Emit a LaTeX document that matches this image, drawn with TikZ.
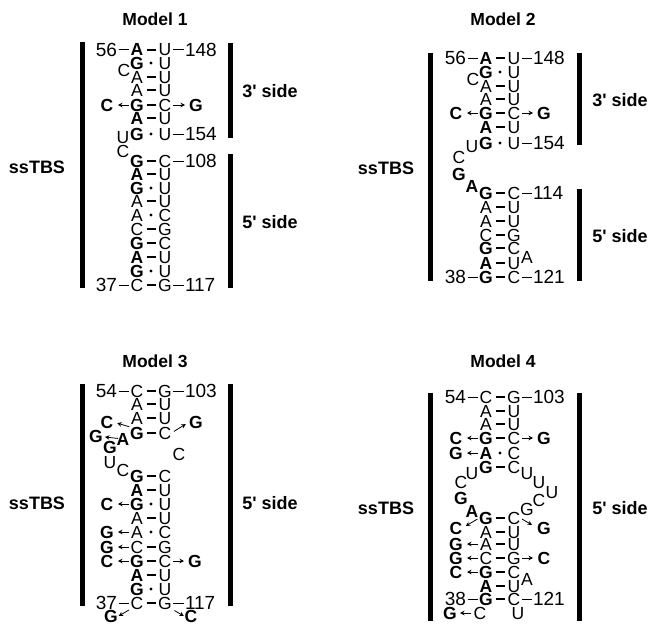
\documentclass[tikz,border=0pt]{standalone}
\usepackage{fontspec}
\setmainfont{Liberation Sans}
\usetikzlibrary{arrows.meta}
\tikzset{
 x=1pt,y=-1pt,
 nt/.style={inner sep=0pt,outer sep=0pt,text height=12pt,text depth=0pt,font=\fontsize{17.5}{17}\selectfont},
 num/.style={inner sep=0pt,outer sep=0pt,text height=13pt,text depth=0pt,font=\fontsize{19}{19}\selectfont},
 title/.style={inner sep=0pt,font=\fontsize{17.5}{18}\selectfont\bfseries},
 lab/.style={inner sep=0pt,font=\fontsize{18}{18}\selectfont\bfseries},
 bar/.style={line width=5pt,black},
 bond/.style={line width=2pt,shorten <=9.5pt,shorten >=9.5pt},
 thin link/.style={line width=.9pt},
 dotn/.style={circle,fill=black,inner sep=0pt,minimum size=3.4pt},
 arr/.style={-{Stealth[length=4.5pt,width=4.5pt]},line width=.8pt,shorten <=8pt,shorten >=11pt},
}
\newcommand\bb[1]{\textbf{#1}}
\newcommand\tsd{\textquotesingle}
% letter node: name, x, y, text
\newcommand\ltr[4]{\node[nt] (#1) at (#2,#3) {#4};}
% base pair joined by a bar: id, xL, y, left, right
\newcommand\pairb[5]{\node[nt] (#1L) at (#2,#3) {#4};\node[nt] (#1R) at ({#2+28},#3) {#5};\draw[bond] (#1L.center) -- (#1R.center);}
% base pair joined by a dot
\newcommand\paird[5]{\node[nt] (#1L) at (#2,#3) {#4};\node[nt] (#1R) at ({#2+28},#3) {#5};\path (#1L.center) -- node[dotn] (#1D) {} (#1R.center);}
% end labels: 5'-number and 3'-number joined by thin links
\newcommand\rnaends[6]{\node[num,anchor=east] (#1a) at (#2,#3) {#4};\node[num,anchor=west] (#1b) at (#5,#3) {#6};
 \draw[thin link,shorten <=1.5pt,shorten >=8pt] (#1a.east) -- (#1L.center);
 \draw[thin link,shorten <=8pt,shorten >=1.5pt] (#1R.center) -- (#1b.west);}
\begin{document}
\begin{tikzpicture}
\useasboundingbox (0,0) rectangle (649,624);
%% ---------- Model 1
\node[title] (t1) at (155,19) {Model 1};
\node[lab] (s1) at (37,167) {ssTBS};
\node[lab] (a1) at (270,91) {3\tsd{} side};
\node[lab] (b1) at (270,222) {5\tsd{} side};
\draw[bar] (82,42) -- (82,288);
\draw[bar] (230,43) -- (230,138);
\draw[bar] (230,154) -- (230,288);
\pairb{ma}{137}{49.5}{\bb{A}}{U}
\rnaends{ma}{117}{49.5}{56}{185}{148}
\paird{mb}{137}{63}{\bb{G}}{U}
\ltr{mc}{124}{70}{C}
\pairb{md}{137}{77}{A}{U}
\pairb{me}{137}{90}{A}{U}
\pairb{mf}{137}{105}{\bb{G}}{C}
\ltr{mfl}{107}{105}{\bb{C}}
\ltr{mfr}{196}{105}{\bb{G}}
\draw[arr] (mfL.center) -- (mfl.center);
\draw[arr] (mfR.center) -- (mfr.center);
\pairb{mg}{137}{118}{\bb{A}}{U}
\paird{mh}{137}{134}{\bb{G}}{U}
\node[num,anchor=west] (mh9) at (185,134) {154};
\draw[thin link,shorten <=8pt,shorten >=1.5pt] (mhR.center) -- (mh9.west);
\ltr{mu}{123}{137}{U}
\ltr{mv}{123}{151}{C}
\pairb{mi}{137}{161}{\bb{G}}{C}
\node[num,anchor=west] (mi9) at (185,161) {108};
\draw[thin link,shorten <=8pt,shorten >=1.5pt] (miR.center) -- (mi9.west);
\pairb{mj}{137}{174}{\bb{A}}{U}
\paird{mk}{137}{188}{\bb{G}}{U}
\pairb{ml}{137}{201}{A}{U}
\paird{mm}{137}{215}{A}{C}
\pairb{mn}{137}{229}{C}{G}
\pairb{mo}{137}{243}{\bb{G}}{C}
\pairb{mp}{137}{257}{\bb{A}}{U}
\paird{mq}{137}{271}{\bb{G}}{U}
\pairb{mr}{137}{285}{C}{G}
\rnaends{mr}{117}{285}{37}{185}{117}
%% ---------- Model 2
\node[title] (t2) at (503,19) {Model 2};
\node[lab] (s2) at (386,168) {ssTBS};
\node[lab] (a2) at (620,100) {3\tsd{} side};
\node[lab] (b2) at (620,236) {5\tsd{} side};
\draw[bar] (430,53) -- (430,281);
\draw[bar] (579,53) -- (579,145);
\draw[bar] (579,189) -- (579,281);
\pairb{na}{486}{58}{\bb{A}}{U}
\rnaends{na}{466}{58}{56}{533}{148}
\paird{nb}{486}{72}{\bb{G}}{U}
\ltr{nc}{473}{79}{C}
\pairb{nd}{486}{86}{A}{U}
\pairb{ne}{486}{99}{A}{U}
\pairb{nf}{486}{113}{\bb{G}}{C}
\ltr{nfl}{456}{113}{\bb{C}}
\ltr{nfr}{544}{113}{\bb{G}}
\draw[arr] (nfL.center) -- (nfl.center);
\draw[arr] (nfR.center) -- (nfr.center);
\pairb{ng}{486}{127}{\bb{A}}{U}
\paird{nh}{486}{143}{\bb{G}}{U}
\node[num,anchor=west] (nh9) at (533,143) {154};
\draw[thin link,shorten <=8pt,shorten >=1.5pt] (nhR.center) -- (nh9.west);
\ltr{nu}{472}{146}{U}
\ltr{nv}{459}{157}{C}
\ltr{nw}{459}{174}{\bb{G}}
\ltr{nx}{472}{186}{\bb{A}}
\pairb{ni}{486}{193}{\bb{G}}{C}
\node[num,anchor=west] (ni9) at (533,193) {114};
\draw[thin link,shorten <=8pt,shorten >=1.5pt] (niR.center) -- (ni9.west);
\pairb{nj}{486}{207}{A}{U}
\pairb{nk}{486}{221}{A}{U}
\pairb{nl}{486}{235}{C}{G}
\pairb{nm}{486}{248}{\bb{G}}{C}
\ltr{ny}{527}{257}{A}
\pairb{nn}{486}{263}{\bb{A}}{U}
\pairb{no}{486}{277}{\bb{G}}{C}
\rnaends{no}{466}{277}{38}{533}{121}
%% ---------- Model 3
\node[title] (t3) at (155,361) {Model 3};
\node[lab] (s3) at (37,503) {ssTBS};
\node[lab] (b3) at (270,503) {5\tsd{} side};
\draw[bar] (82,384) -- (82,606);
\draw[bar] (230,384) -- (230,606);
\pairb{pa}{137}{391}{C}{G}
\rnaends{pa}{117}{391}{54}{185}{103}
\pairb{pb}{137}{404}{A}{U}
\pairb{pc}{137}{418}{A}{U}
\pairb{pd}{137}{433}{\bb{G}}{C}
\ltr{pdl}{107}{422}{\bb{C}}
\ltr{pdr}{196}{422}{\bb{G}}
\draw[arr,shorten <=1pt,shorten >=4pt] (pdL.north west) -- (pdl.east);
\draw[arr,shorten <=3pt,shorten >=4pt] (pdR.east) -- (pdr.west);
\ltr{pe}{123}{439}{\bb{A}}
\ltr{pf}{96}{436}{\bb{G}}
\draw[arr,shorten <=5pt,shorten >=9pt] (pe.center) -- (pf.center);
\ltr{pg}{110}{447}{\bb{G}}
\ltr{ph}{110}{462}{U}
\ltr{pi}{123}{470}{C}
\ltr{pj}{179}{454}{C}
\pairb{pk}{137}{476}{\bb{G}}{C}
\pairb{pl}{137}{490}{\bb{A}}{U}
\paird{pm}{137}{504}{\bb{G}}{U}
\ltr{pml}{107}{504}{\bb{C}}
\draw[arr] (pmL.center) -- (pml.center);
\pairb{pn}{137}{518}{A}{U}
\paird{po}{137}{532}{A}{C}
\ltr{pol}{107}{532}{\bb{G}}
\draw[arr] (poL.center) -- (pol.center);
\pairb{pp}{137}{547}{C}{G}
\ltr{ppl}{107}{547}{\bb{G}}
\draw[arr] (ppL.center) -- (ppl.center);
\pairb{pq}{137}{561}{\bb{G}}{C}
\ltr{pql}{107}{561}{\bb{C}}
\ltr{pqr}{195}{561}{\bb{G}}
\draw[arr] (pqL.center) -- (pql.center);
\draw[arr] (pqR.center) -- (pqr.center);
\pairb{pr}{137}{575}{\bb{A}}{U}
\paird{ps}{137}{589}{\bb{G}}{U}
\pairb{pt}{137}{603}{C}{G}
\rnaends{pt}{117}{603}{37}{185}{117}
\ltr{ptl}{111}{616.5}{\bb{G}}
\ltr{ptr}{191}{616.5}{\bb{C}}
\draw[arr,shorten <=2pt,shorten >=1pt] (ptL.south west) -- (ptl.east);
\draw[arr,shorten <=3pt,shorten >=1pt] (ptR.south east) -- (ptr.west);
%% ---------- Model 4
\node[title] (t4) at (503,361) {Model 4};
\node[lab] (s4) at (386,508) {ssTBS};
\node[lab] (b4) at (620,508) {5\tsd{} side};
\draw[bar] (430,393) -- (430,621);
\draw[bar] (579,393) -- (579,621);
\pairb{qa}{486}{397}{C}{G}
\rnaends{qa}{466}{397}{54}{533}{103}
\pairb{qb}{486}{411}{A}{U}
\pairb{qc}{486}{424}{A}{U}
\pairb{qd}{486}{438}{\bb{G}}{C}
\ltr{qdl}{456}{438}{\bb{C}}
\ltr{qdr}{544}{438}{\bb{G}}
\draw[arr] (qdL.center) -- (qdl.center);
\draw[arr] (qdR.center) -- (qdr.center);
\paird{qe}{486}{453}{\bb{A}}{C}
\ltr{qel}{456}{453}{\bb{G}}
\draw[arr] (qeL.center) -- (qel.center);
\pairb{qf}{486}{467}{\bb{G}}{C}
\ltr{qg}{461}{482}{C}
\ltr{qh}{472}{473}{U}
\ltr{qi}{527}{473}{U}
\ltr{qj}{539}{482}{U}
\ltr{qk}{552}{492}{U}
\ltr{ql}{539}{500}{C}
\ltr{qm}{527}{509}{G}
\ltr{qn}{461}{498}{\bb{G}}
\ltr{qo}{472}{511}{\bb{A}}
\pairb{qp}{486}{518}{\bb{G}}{C}
\ltr{qpl}{456}{528}{\bb{C}}
\ltr{qpr}{544}{528}{\bb{G}}
\draw[arr,shorten <=2pt,shorten >=4pt] (qpL.west) -- (qpl.east);
\draw[arr,shorten <=2pt,shorten >=6pt] (qpR.east) -- (qpr.west);
\pairb{qq}{486}{532}{A}{U}
\pairb{qr}{486}{544}{A}{U}
\ltr{qrl}{456}{544}{\bb{G}}
\draw[arr] (qrL.center) -- (qrl.center);
\pairb{qs}{486}{558}{C}{G}
\ltr{qsl}{456}{558}{\bb{G}}
\ltr{qsr}{544}{558}{\bb{C}}
\draw[arr] (qsL.center) -- (qsl.center);
\draw[arr] (qsR.center) -- (qsr.center);
\pairb{qt}{486}{572}{\bb{G}}{C}
\ltr{qtl}{456}{572}{\bb{C}}
\draw[arr] (qtL.center) -- (qtl.center);
\ltr{qu}{527}{579}{A}
\pairb{qv}{486}{586}{\bb{A}}{U}
\pairb{qw}{486}{599}{\bb{G}}{C}
\rnaends{qw}{466}{599}{38}{533}{121}
\ltr{qx}{450}{613}{\bb{G}}
\ltr{qy}{480}{613}{C}
\ltr{qz}{518}{613}{U}
\draw[arr,shorten <=9pt,shorten >=10pt] (qy.center) -- (qx.center);
\end{tikzpicture}
\end{document}
